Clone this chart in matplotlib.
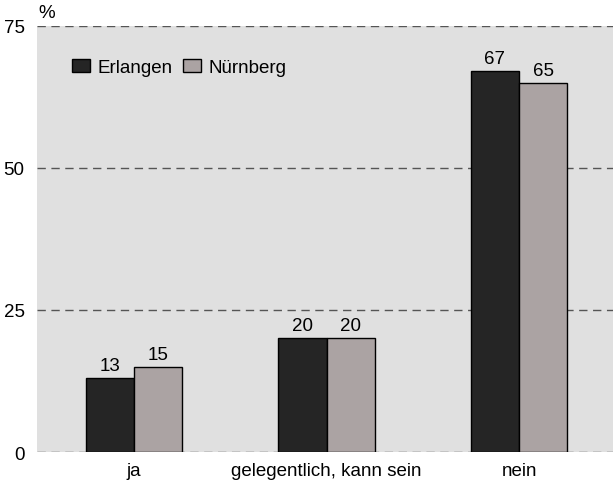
import matplotlib.pyplot as plt
import numpy as np

plt.rcParams['font.family'] = ['Liberation Sans', 'DejaVu Sans']

categories = ["ja", "gelegentlich, kann sein", "nein"]
erlangen = [13, 20, 67]
nuernberg = [15, 20, 65]
series_names = ["Erlangen", "Nürnberg"]
yticks = [0, 25, 50, 75]

fig = plt.figure(figsize=(6.13, 4.81), dpi=100)
ax = fig.add_axes([0.0604, 0.0582, 0.9396, 0.8857])
ax.set_facecolor("#e0e0e0")

x = np.arange(len(categories))
w = 0.25
b1 = ax.bar(x - w / 2, erlangen, w, color="#252525", edgecolor="black", linewidth=1.0,
            label=series_names[0], zorder=3)
b2 = ax.bar(x + w / 2, nuernberg, w, color="#aba3a3", edgecolor="black", linewidth=1.0,
            label=series_names[1], zorder=3)

for bars in (b1, b2):
    for rect in bars:
        h = rect.get_height()
        ax.annotate(f"{h:g}", (rect.get_x() + rect.get_width() / 2, h),
                    xytext=(0, 3), textcoords="offset points",
                    ha="center", va="bottom", fontsize=13.5)

ax.set_xlim(-0.504, 2.488)
ax.set_ylim(0, 75)
ax.set_yticks(yticks)
ax.set_xticks(x)
ax.set_xticklabels(categories)
ax.tick_params(axis="both", length=0, labelsize=13.5)
ax.tick_params(axis="y", pad=9)
ax.tick_params(axis="x", pad=7)
ax.yaxis.grid(True, linestyle=(0, (6, 4)), color="#555555", linewidth=1.0, zorder=0)
ax.set_axisbelow(True)
for s in ax.spines.values():
    s.set_visible(False)

ax.text(0.003, 1.012, "%", transform=ax.transAxes, fontsize=13.5, ha="left", va="bottom")

ax.legend(loc="upper left", bbox_to_anchor=(0.048, 0.94), ncol=2, frameon=False,
          fontsize=13.5, handlelength=0.95, handleheight=0.65, handletextpad=0.4,
          columnspacing=0.55, borderaxespad=0.0)

plt.savefig("out.png", dpi=100)
